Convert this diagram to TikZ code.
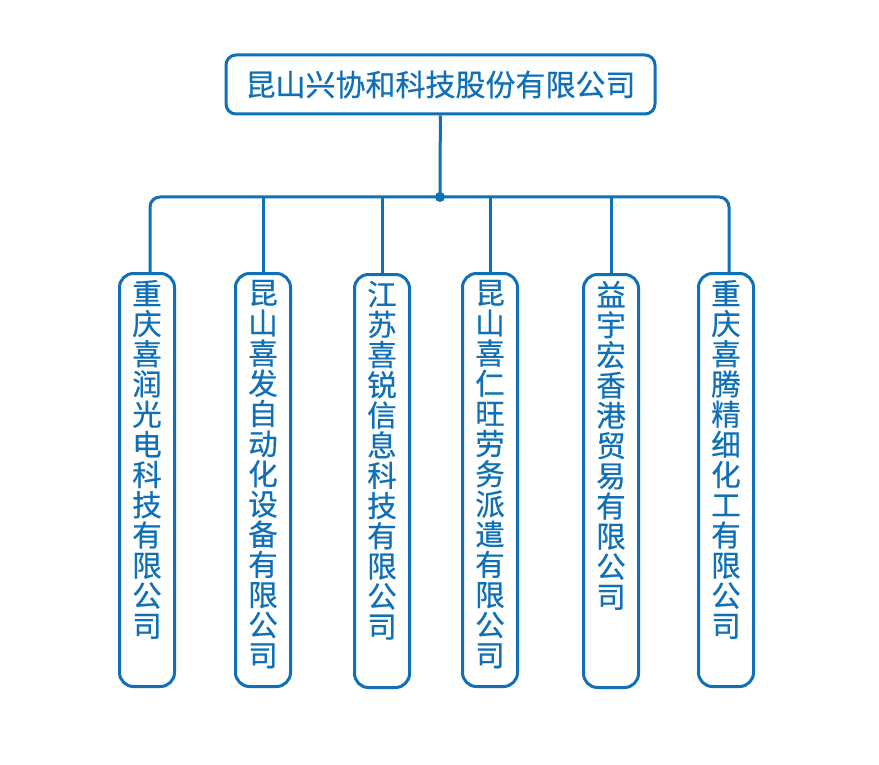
\documentclass[tikz,border=0pt]{standalone}
\usepackage{fontspec}
\setmainfont[FakeBold=0.5]{Noto Sans CJK SC}
\definecolor{orgblue}{HTML}{0F70B7}
% vertical company name, top aligned
\newcommand\vname[1]{\parbox[c][400pt][t]{30pt}{\centering\fontsize{29.5pt}{30.2pt}\selectfont #1}}

\begin{document}
\begin{tikzpicture}[x=1pt, y=-1pt, color=orgblue, line width=3pt, line join=round,
  topbox/.style={draw, rounded corners=10pt, minimum width=429pt, minimum height=59pt, inner sep=0pt, font=\fontsize{30pt}{31pt}\selectfont},
  subbox/.style={draw, rounded corners=14pt, anchor=north, inner xsep=12.5pt, inner ysep=6.5pt}]
\useasboundingbox (0,0) rectangle (879,765);

\node[topbox] (root) at (440.5,84.5) {昆山兴协和科技股份有限公司};
\coordinate (hub) at (440,197);

\node[subbox] (c1) at (147,272) {\vname{重\\庆\\喜\\润\\光\\电\\科\\技\\有\\限\\公\\司}};
\node[subbox] (c2) at (263,272) {\vname{昆\\山\\喜\\发\\自\\动\\化\\设\\备\\有\\限\\公\\司}};
\node[subbox] (c3) at (382,273) {\vname{江\\苏\\喜\\锐\\信\\息\\科\\技\\有\\限\\公\\司}};
\node[subbox] (c4) at (490,272) {\vname{昆\\山\\喜\\仁\\旺\\劳\\务\\派\\遣\\有\\限\\公\\司}};
\node[subbox] (c5) at (611,273) {\vname{益\\宇\\宏\\香\\港\\贸\\易\\有\\限\\公\\司}};
\node[subbox] (c6) at (726,272) {\vname{重\\庆\\喜\\腾\\精\\细\\化\\工\\有\\限\\公\\司}};

\draw (root) -- (hub);
\draw[rounded corners=10pt] ([xshift=3pt]c1.north) |- (hub) -| ([xshift=3pt]c6.north);
\foreach \k in {c2,c3,c4,c5}
\draw (\k.north) -- (\k.north |- hub);
\fill (hub) circle (5pt);
\end{tikzpicture}
\end{document}
